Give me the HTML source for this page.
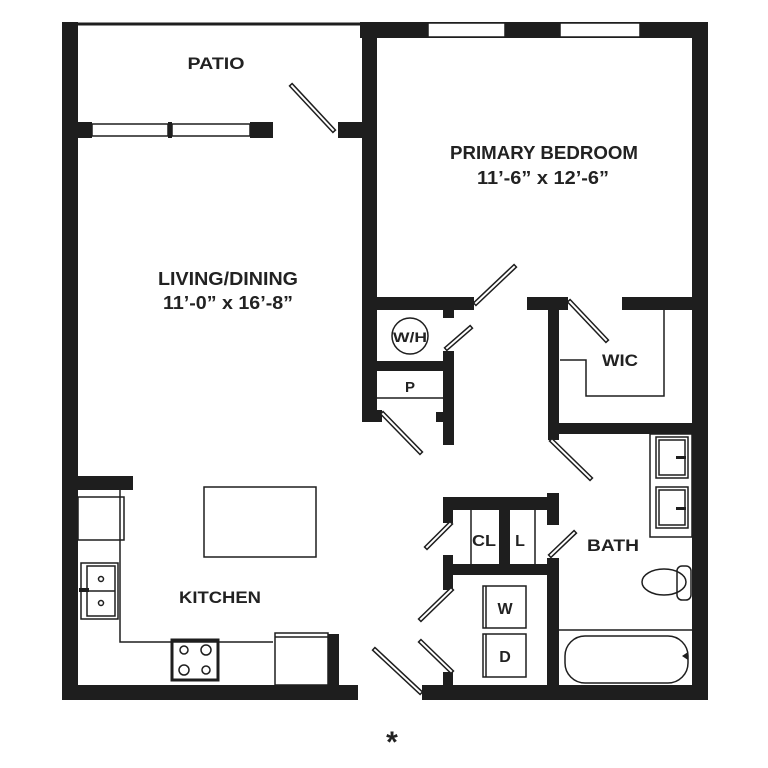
<!DOCTYPE html>
<html><head><style>
html,body{margin:0;padding:0;background:#fff;}
svg{display:block;}
text{font-family:"Liberation Sans",sans-serif;font-weight:bold;fill:#222;}
</style></head><body>
<svg width="768" height="768" viewBox="0 0 768 768" xmlns="http://www.w3.org/2000/svg">
<g fill="#1e1e1e">
<!-- outer walls -->
<rect x="62" y="22" width="16" height="678"/>
<rect x="360" y="22" width="348" height="16"/>
<rect x="692" y="22" width="16" height="678"/>
<rect x="362" y="22" width="15" height="400"/>
<rect x="62" y="685" width="296" height="15"/>
<rect x="422" y="685" width="286" height="15"/>
<!-- patio wall -->
<rect x="62" y="122" width="30" height="16"/>
<rect x="250" y="122" width="23" height="16"/>
<rect x="168" y="122" width="4" height="16"/>
<rect x="338" y="122" width="39" height="16"/>
<!-- bedroom bottom wall -->
<rect x="362" y="297" width="112" height="13"/>
<rect x="527" y="297" width="41" height="13"/>
<rect x="622" y="297" width="86" height="13"/>
<!-- WIC -->
<rect x="548" y="297" width="11" height="143"/>
<rect x="548" y="423" width="160" height="11"/>
<!-- W/H & P -->
<rect x="443" y="308" width="11" height="10"/>
<rect x="377" y="361" width="74" height="10"/>
<rect x="443" y="351" width="11" height="94"/>
<rect x="362" y="410" width="20" height="12"/>
<rect x="436" y="412" width="8" height="10"/>
<!-- CL/L -->
<rect x="443" y="497" width="116" height="13"/>
<rect x="547" y="493" width="12" height="32"/>
<rect x="443" y="497" width="10" height="26"/>
<rect x="499" y="510" width="11" height="56"/>
<rect x="443" y="564" width="116" height="11"/>
<rect x="443" y="555" width="10" height="35"/>
<rect x="547" y="558" width="12" height="142"/>
<rect x="443" y="672" width="10" height="28"/>
<!-- kitchen -->
<rect x="62" y="476" width="71" height="14"/>
<rect x="328" y="634" width="11" height="52"/>
</g>
<!-- windows -->
<g fill="#fff" stroke="#1e1e1e" stroke-width="1.5">
<rect x="428" y="23" width="77" height="14"/>
<rect x="560" y="23" width="80" height="14"/>
<rect x="92" y="124" width="76" height="12"/>
<rect x="172" y="124" width="78" height="12"/>
</g>
<line x1="78" y1="24" x2="360" y2="24" stroke="#1e1e1e" stroke-width="3"/>
<!-- doors -->
<g stroke="#1e1e1e" stroke-width="5" stroke-linecap="square">
<line x1="292" y1="86" x2="333" y2="130"/>
<line x1="476" y1="303" x2="514" y2="267"/>
<line x1="570" y1="302" x2="606" y2="340"/>
<line x1="447" y1="348" x2="470" y2="328"/>
<line x1="383" y1="414" x2="420" y2="452"/>
<line x1="552" y1="441" x2="590" y2="478"/>
<line x1="427" y1="547" x2="450" y2="524"/>
<line x1="551" y1="555" x2="574" y2="533"/>
<line x1="421" y1="619" x2="451" y2="590"/>
<line x1="421" y1="642" x2="451" y2="671"/>
<line x1="375" y1="650" x2="420" y2="692"/>
</g>
<g stroke="#fff" stroke-width="2" stroke-linecap="square">
<line x1="292" y1="86" x2="333" y2="130"/>
<line x1="476" y1="303" x2="514" y2="267"/>
<line x1="570" y1="302" x2="606" y2="340"/>
<line x1="447" y1="348" x2="470" y2="328"/>
<line x1="383" y1="414" x2="420" y2="452"/>
<line x1="552" y1="441" x2="590" y2="478"/>
<line x1="427" y1="547" x2="450" y2="524"/>
<line x1="551" y1="555" x2="574" y2="533"/>
<line x1="421" y1="619" x2="451" y2="590"/>
<line x1="421" y1="642" x2="451" y2="671"/>
<line x1="375" y1="650" x2="420" y2="692"/>
</g>
<!-- fixtures -->
<g fill="none" stroke="#1e1e1e" stroke-width="1.5">
<polyline points="560,360 586,360 586,396 664,396 664,310"/>
<circle cx="410" cy="336" r="18"/>
<line x1="377" y1="398" x2="443" y2="398"/>
<line x1="471" y1="510" x2="471" y2="564"/>
<line x1="535" y1="510" x2="535" y2="564"/>
<rect x="483" y="586" width="43" height="42"/>
<rect x="483" y="634" width="43" height="43"/>
<line x1="486" y1="586" x2="486" y2="628"/>
<line x1="486" y1="634" x2="486" y2="677"/>
<rect x="650" y="434" width="42" height="103"/>
<rect x="656" y="437" width="32" height="41"/>
<rect x="659" y="440" width="26" height="35"/>
<rect x="656" y="487" width="32" height="41"/>
<rect x="659" y="490" width="26" height="35"/>
<ellipse cx="664" cy="582" rx="22" ry="13"/>
<rect x="677" y="566" width="14" height="34" rx="5"/>
<line x1="559" y1="630" x2="692" y2="630"/>
<rect x="565" y="636" width="123" height="47" rx="20"/>
<rect x="204" y="487" width="112" height="70"/>
<rect x="78" y="497" width="46" height="43"/>
<polyline points="120,490 120,642 273,642"/>
<rect x="81" y="563" width="37" height="56"/>
<rect x="87" y="566" width="28" height="50"/>
<line x1="87" y1="591" x2="115" y2="591"/>
<circle cx="101" cy="579" r="2.5"/>
<circle cx="101" cy="603" r="2.5"/>
<rect x="172" y="640" width="46" height="40" stroke-width="3"/>
<circle cx="184" cy="650" r="4"/>
<circle cx="206" cy="650" r="5"/>
<circle cx="184" cy="670" r="5"/>
<circle cx="206" cy="670" r="4"/>
<rect x="275" y="633" width="53" height="52"/>
<line x1="275" y1="637" x2="328" y2="637"/>
</g>
<g fill="#1e1e1e">
<rect x="676" y="456" width="10" height="3"/>
<rect x="676" y="507" width="10" height="3"/>
<rect x="79" y="588" width="10" height="4"/>
<path d="M682 656 l6 -4 v8z"/>
</g>
<!-- labels -->
<text x="216" y="69" font-size="17" text-anchor="middle" textLength="57" lengthAdjust="spacingAndGlyphs">PATIO</text>
<text x="544" y="159" font-size="18" text-anchor="middle" textLength="188" lengthAdjust="spacingAndGlyphs">PRIMARY BEDROOM</text>
<text x="543" y="184" font-size="18" text-anchor="middle" textLength="132" lengthAdjust="spacingAndGlyphs">11’-6” x 12’-6”</text>
<text x="228" y="285" font-size="18" text-anchor="middle" textLength="140" lengthAdjust="spacingAndGlyphs">LIVING/DINING</text>
<text x="228" y="309" font-size="18" text-anchor="middle" textLength="130" lengthAdjust="spacingAndGlyphs">11’-0” x 16’-8”</text>
<text x="410" y="342" font-size="14" text-anchor="middle" textLength="34" lengthAdjust="spacingAndGlyphs">W/H</text>
<text x="410" y="392" font-size="15" text-anchor="middle">P</text>
<text x="620" y="366" font-size="17" text-anchor="middle" textLength="36" lengthAdjust="spacingAndGlyphs">WIC</text>
<text x="484" y="546" font-size="16" text-anchor="middle" textLength="24" lengthAdjust="spacingAndGlyphs">CL</text>
<text x="520" y="546" font-size="16" text-anchor="middle">L</text>
<text x="613" y="551" font-size="17" text-anchor="middle" textLength="52" lengthAdjust="spacingAndGlyphs">BATH</text>
<text x="505" y="614" font-size="16" text-anchor="middle">W</text>
<text x="505" y="662" font-size="16" text-anchor="middle">D</text>
<text x="220" y="603" font-size="17" text-anchor="middle" textLength="82" lengthAdjust="spacingAndGlyphs">KITCHEN</text>
<text x="392" y="752" font-size="30" text-anchor="middle">*</text>
</svg>
</body></html>
